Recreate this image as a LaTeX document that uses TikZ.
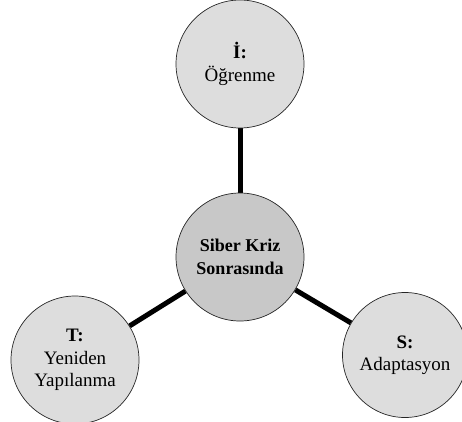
\documentclass[tikz,border=0pt]{standalone}
\usepackage{fontspec}
\setmainfont{Liberation Serif}
\usetikzlibrary{backgrounds}
\definecolor{outerfill}{HTML}{DDDDDD}
\definecolor{innerfill}{HTML}{C8C8C8}
\tikzset{
  bub/.style={circle, draw=black!85, line width=0.7pt, fill=outerfill,
    minimum size=128pt, inner sep=0pt, align=center,
    font=\fontsize{19}{22.5}\selectfont},
  hub/.style={bub, fill=innerfill, font=\fontsize{18}{23}\selectfont\bfseries},
  link/.style={line width=5pt, black}
}
\begin{document}
\begin{tikzpicture}[x=1pt,y=-1pt]
\useasboundingbox (0,0) rectangle (462,421);
\node[hub] (c) at (240,257) {Siber Kriz\\Sonrasında};
\node[bub] (i) at (240,64) {\textbf{İ:}\\Öğrenme};
\node[bub] (t) at (75,360) {\textbf{T:}\\Yeniden\\Yapılanma};
\node[bub, minimum size=125pt] (s) at (405,355) {\textbf{S:}\\Adaptasyon};
\begin{scope}[on background layer]
\draw[link] (c) -- (i);
\draw[link] (c) -- (t);
\draw[link] (c) -- (s);
\end{scope}
\end{tikzpicture}
\end{document}
